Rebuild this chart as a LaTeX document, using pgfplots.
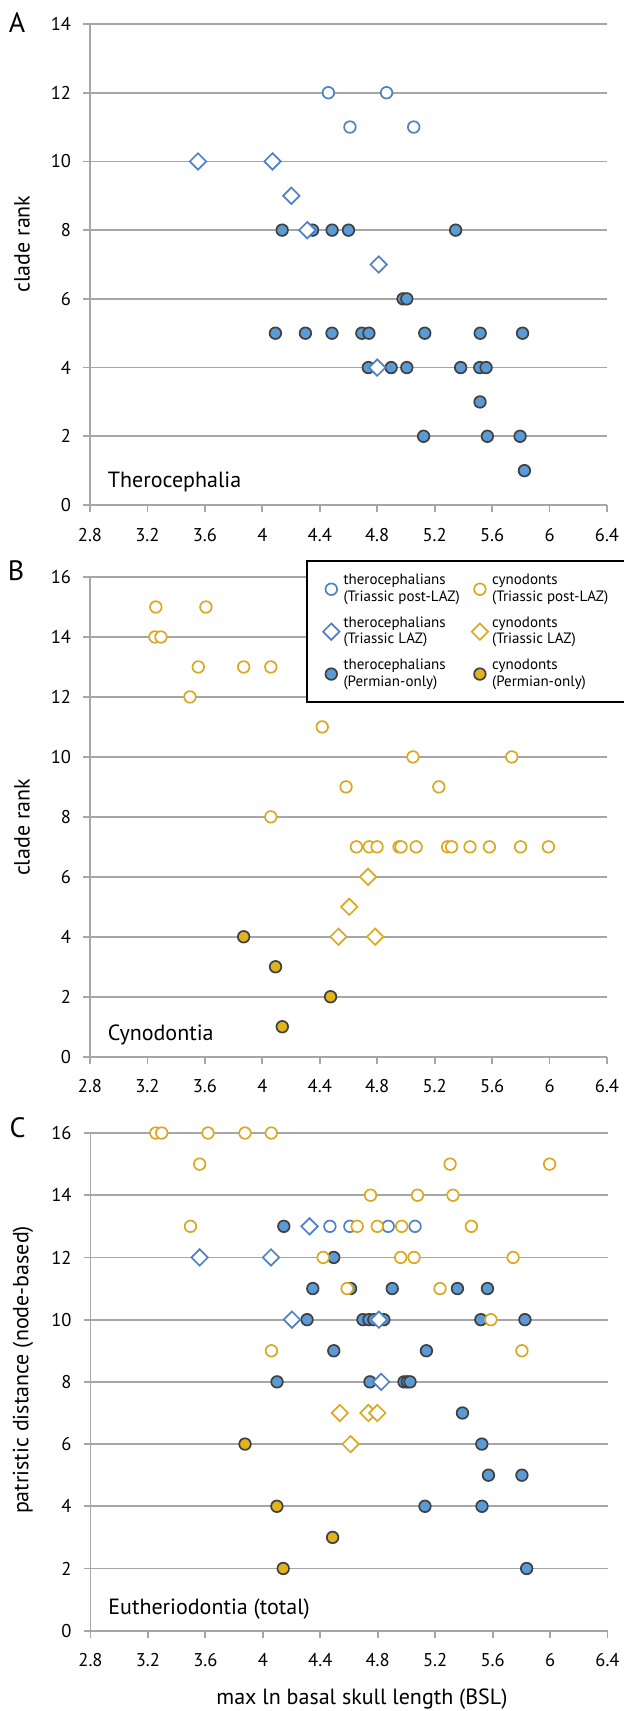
\documentclass[border=0pt]{standalone}
\usepackage{fontspec}
\setmainfont{PT Sans}
\usepackage{pgfplots}
\pgfplotsset{compat=1.18}
\usepackage{xcolor}
\definecolor{gridc}{HTML}{A6A6A6}
\definecolor{bluefill}{HTML}{5B9BD5}
\definecolor{blueline}{HTML}{4F81C7}
\definecolor{yelline}{HTML}{DBA91F}
\definecolor{yelfill}{HTML}{E1B41E}
\definecolor{edgec}{HTML}{404040}

\pgfplotsset{
  panel/.style={
    scale only axis, width=258.5pt,
    xmin=2.8, xmax=6.4,
    xtick={2.8,3.2,3.6,4,4.4,4.8,5.2,5.6,6,6.4},
    xticklabels={2.8,3.2,3.6,4,4.4,4.8,5.2,5.6,6,6.4},
    axis x line*=bottom, axis y line*=left,
    axis line style={draw=gridc, line width=0.9pt},
    ymajorgrids, grid style={draw=gridc, line width=0.9pt},
    tick align=outside, major tick length=3.5pt,
    tick style={draw=gridc, line width=0.9pt},
    ticklabel style={font=\fontsize{9.25}{11}\selectfont, text=black},
    xticklabel style={yshift=-4.5pt},
    yticklabel style={xshift=-2.5pt},
    label style={font=\fontsize{11}{13}\selectfont},
    clip=false,
  },
  thpost/.style={only marks, mark=*, mark size=2.9pt,
    mark options={draw=blueline, fill=white, line width=0.85pt}},
  thlaz/.style={only marks, mark=square*, mark size=2.9pt,
    mark options={rotate=45, draw=blueline, fill=white, line width=0.85pt}},
  thperm/.style={only marks, mark=*, mark size=2.9pt,
    mark options={draw=edgec, fill=bluefill, line width=0.85pt}},
  cypost/.style={only marks, mark=*, mark size=2.9pt,
    mark options={draw=yelline, fill=white, line width=0.85pt}},
  cylaz/.style={only marks, mark=square*, mark size=2.9pt,
    mark options={rotate=45, draw=yelline, fill=white, line width=0.85pt}},
  cyperm/.style={only marks, mark=*, mark size=2.9pt,
    mark options={draw=edgec, fill=yelfill, line width=0.85pt}},
}

\begin{document}
\begin{tikzpicture}
\useasboundingbox (0,0) rectangle (311.5pt,-855.5pt);

% A: Therocephalia
\begin{axis}[panel, at={(45pt,-252.5pt)}, anchor=south west, height=240.5pt,
  ymin=0, ymax=14, ytick={0,2,4,6,8,10,12,14}, yticklabels={0,2,4,6,8,10,12,14},
  ylabel={clade rank},
  ylabel style={at={(axis description cs:-0.1315,0.5426)}, anchor=center}]
  \addplot[thperm] coordinates {
    (4.138,8)(4.35,8)(4.486,8)(4.60,8)(5.346,8)
    (4.98,6)(5.006,6)
    (4.091,5)(4.30,5)(4.485,5)(4.693,5)(4.742,5)(5.131,5)(5.517,5)(5.812,5)
    (4.738,4)(4.897,4)(5.006,4)(5.381,4)(5.514,4)(5.558,4)
    (5.516,3)
    (5.123,2)(5.567,2)(5.795,2)
    (5.825,1)};
  \addplot[thpost] coordinates {(4.46,12)(4.865,12)(4.61,11)(5.054,11)};
  \addplot[thlaz] coordinates {(3.552,10)(4.071,10)(4.202,9)(4.313,8)(4.81,7)(4.80,4)};
  \node[anchor=west, font=\fontsize{11}{13}\selectfont] at (rel axis cs:0.021,0.048) {Therocephalia};
  \node[font=\fontsize{14}{16}\selectfont] at (axis description cs:-0.141,1.002) {A};
\end{axis}

% B: Cynodontia
\begin{axis}[panel, at={(45pt,-528.35pt)}, anchor=south west, height=239.85pt,
  ymin=0, ymax=16, ytick={0,2,4,6,8,10,12,14,16}, yticklabels={0,2,4,6,8,10,12,14,16},
  ylabel={clade rank},
  ylabel style={at={(axis description cs:-0.1315,0.478)}, anchor=center},
  legend columns=2,
  legend cell align=left,
  legend style={at={(axis description cs:0.418,1.0354)}, anchor=north west,
    draw=black, line width=1pt, fill=white,
    font=\fontsize{7.5}{8.4}\selectfont,
    cells={align=left},
    inner xsep=8pt, inner ysep=4.5pt, row sep=2pt,
    /tikz/every even column/.append style={column sep=4pt}},
  legend image code/.code={\draw[#1] plot coordinates {(0pt,0pt)};}]
  \addlegendimage{thpost}
  \addlegendentry{therocephalians\\(Triassic post-LAZ)}
  \addlegendimage{cypost}
  \addlegendentry{cynodonts\\(Triassic post-LAZ)\rule{14pt}{0pt}}
  \addlegendimage{thlaz}
  \addlegendentry{therocephalians\\(Triassic LAZ)}
  \addlegendimage{cylaz}
  \addlegendentry{cynodonts\\(Triassic LAZ)}
  \addlegendimage{thperm}
  \addlegendentry{therocephalians\\(Permian-only)}
  \addlegendimage{cyperm}
  \addlegendentry{cynodonts\\(Permian-only)}
  \addplot[cyperm, forget plot] coordinates {(3.870,4)(4.092,3)(4.475,2)(4.139,1)};
  \addplot[cypost, forget plot] coordinates {
    (3.258,15)(3.607,15)
    (3.252,14)(3.294,14)
    (3.554,13)(3.870,13)(4.059,13)
    (3.496,12)
    (4.417,11)
    (5.049,10)(5.737,10)
    (4.583,9)(5.229,9)
    (4.059,8)
    (4.655,7)(4.744,7)(4.799,7)(4.952,7)(4.966,7)(5.071,7)(5.29,7)(5.318,7)(5.446,7)(5.581,7)(5.798,7)(5.992,7)};
  \addplot[cylaz, forget plot] coordinates {(4.736,6)(4.605,5)(4.53,4)(4.786,4)};
  \node[anchor=west, font=\fontsize{11}{13}\selectfont] at (rel axis cs:0.021,0.046) {Cynodontia};
  \node[font=\fontsize{14}{16}\selectfont] at (axis description cs:-0.143,1.0125) {B};
\end{axis}

% C: Eutheriodontia (total)
\begin{axis}[panel, at={(45.25pt,-815.35pt)}, anchor=south west, height=248.85pt,
  ymin=0, ymax=16, ytick={0,2,4,6,8,10,12,14,16}, yticklabels={0,2,4,6,8,10,12,14,16},
  ylabel={patristic distance (node-based)},
  ylabel style={at={(axis description cs:-0.1306,0.524)}, anchor=center},
  xlabel={max ln basal skull length (BSL)},
  xlabel style={at={(axis description cs:0.525,-0.138)}, anchor=center}]
  \addplot[thperm] coordinates {
    (4.146,13)
    (4.494,12)
    (4.348,11)(4.611,11)(4.901,11)(5.355,11)(5.564,11)
    (4.308,10)(4.697,10)(4.739,10)(4.773,10)(4.843,10)(5.518,10)(5.825,10)
    (4.494,9)(5.139,9)
    (4.099,8)(4.746,8)(4.983,8)(5.006,8)(5.025,8)
    (5.39,7)
    (5.525,6)
    (5.571,5)(5.804,5)
    (5.129,4)(5.526,4)
    (5.837,2)};
  \addplot[cyperm] coordinates {(3.876,6)(4.098,4)(4.486,3)(4.142,2)};
  \addplot[thpost] coordinates {(4.467,13)(4.606,13)(4.873,13)(5.06,13)};
  \addplot[cypost] coordinates {
    (3.255,16)(3.296,16)(3.618,16)(3.876,16)(4.059,16)
    (3.56,15)(5.304,15)(5.997,15)
    (4.75,14)(5.077,14)(5.324,14)
    (3.496,13)(4.657,13)(4.797,13)(4.967,13)(5.452,13)
    (4.42,12)(4.96,12)(5.053,12)(5.743,12)
    (4.587,11)(5.234,11)
    (5.588,10)
    (4.06,9)(5.804,9)};
  \addplot[thlaz] coordinates {(4.325,13)(3.56,12)(4.057,12)(4.203,10)(4.808,10)(4.824,8)};
  \addplot[cylaz] coordinates {(4.536,7)(4.735,7)(4.797,7)(4.611,6)};
  \node[anchor=west, font=\fontsize{11}{13}\selectfont] at (rel axis cs:0.021,0.0436) {Eutheriodontia (total)};
  \node[font=\fontsize{14}{16}\selectfont] at (axis description cs:-0.141,1.010) {C};
\end{axis}
\end{tikzpicture}
\end{document}
